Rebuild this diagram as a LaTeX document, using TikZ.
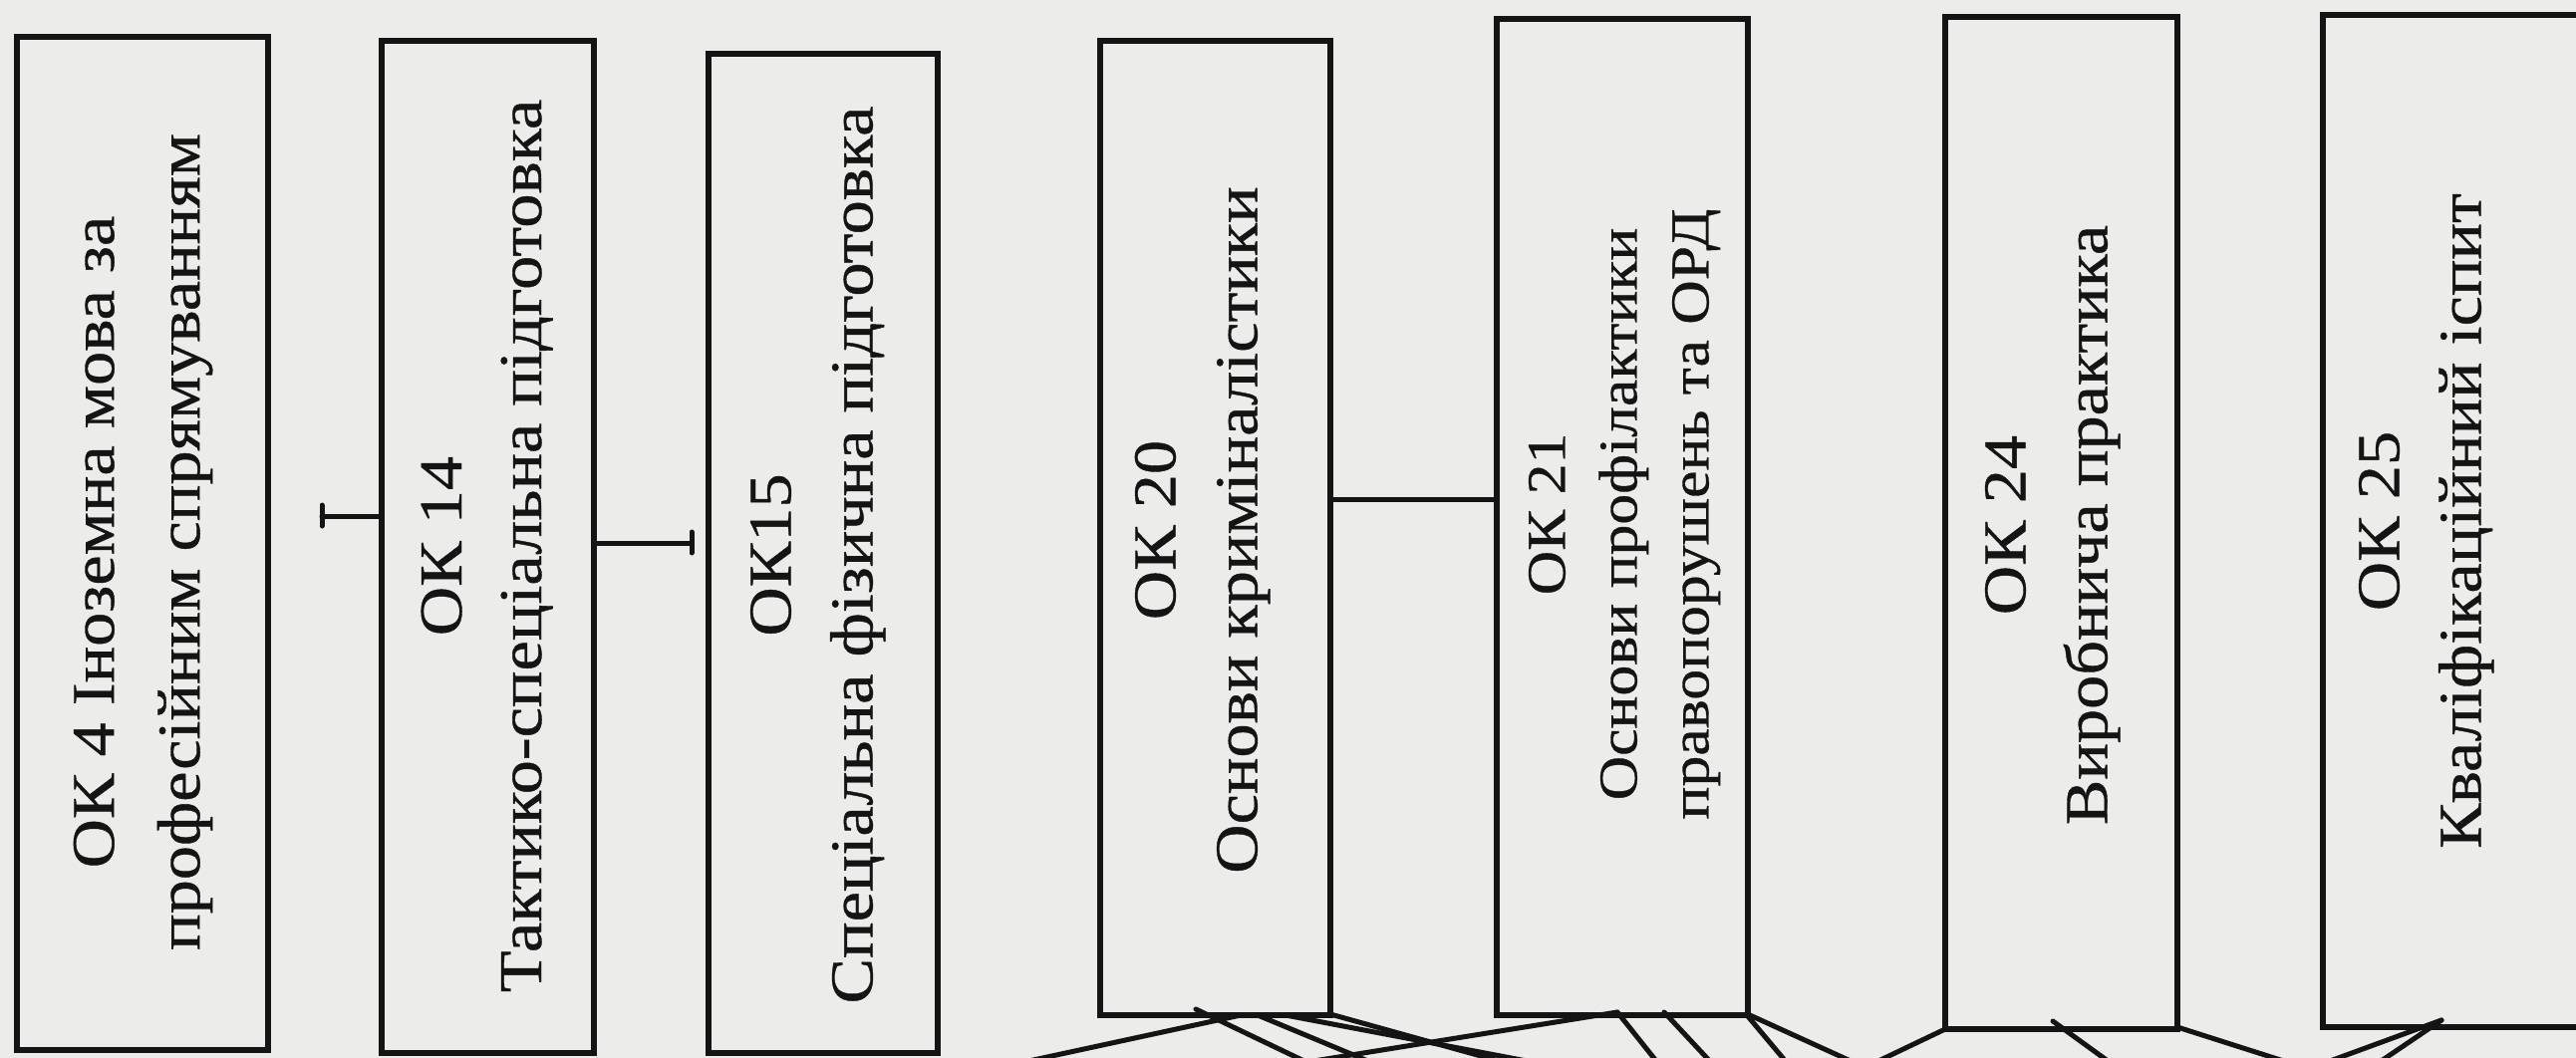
\documentclass[tikz,border=0pt]{standalone}
\usepackage{fontspec}
\setmainfont[FakeBold=0.6]{Liberation Serif}
\newfontfamily\heavyserif[FakeBold=0.6]{Liberation Serif}
\usepackage{graphicx}
\definecolor{paper}{RGB}{236,236,234}
\definecolor{ink}{RGB}{20,20,20}
\tikzset{
  box/.style={draw=ink, line width=5.5pt, rectangle, inner sep=0pt},
  txt/.style={inner sep=0pt, text=ink, font=\heavyserif},
  wire/.style={draw=ink, line width=5pt, line cap=round},
}
\newcommand{\vtxt}[3]{\rotatebox{90}{\scalebox{1.12}[1]{\fontsize{#1}{#2}\selectfont\begin{tabular}{@{}c@{}}#3\end{tabular}}}}
\begin{document}
\begin{tikzpicture}[x=1pt,y=-1pt]
\useasboundingbox (0,0) rectangle (2585,1062);
\fill[paper] (0,0) rectangle (2585,1062);
\clip (0,0) rectangle (2585,1062);

% boxes
\node[box, minimum width=252pt, minimum height=1017pt] (b1) at (143,545.5) {};
\node[box, minimum width=213pt, minimum height=1016pt] (b2) at (489.5,549) {};
\node[box, minimum width=230pt, minimum height=1003pt] (b3) at (826,555.5) {};
\node[box, minimum width=231pt, minimum height=978pt] (b4) at (1219.5,530) {};
\node[box, minimum width=252pt, minimum height=1000pt] (b5) at (1628,519) {};
\node[box, minimum width=233pt, minimum height=1016pt] (b6) at (2068.5,525) {};
\node[box, minimum width=289pt, minimum height=1016pt] (b7) at (2475.5,523) {};

% texts
\node[txt] (t1) at (140,544) {\vtxt{61}{86}{ОК 4 Іноземна мова за\\професійним спрямуванням}};
\node[txt] (t2) at (487,548) {\vtxt{61}{80}{ОК 14\\Тактико-спеціальна підготовка}};
\node[txt] (t3) at (818,557) {\vtxt{61}{82}{ОК15\\Спеціальна фізична підготовка}};
\node[txt] (t4) at (1204,532) {\vtxt{61}{82}{ОК 20\\Основи криміналістики}};
\node[txt] (t5) at (1628,516) {\vtxt{55}{72}{ОК 21\\Основи профілактики\\правопорушень та ОРД}};
\node[txt] (t6) at (2057,527) {\vtxt{61}{82}{ОК 24\\Виробнича практика}};
\node[txt] (t7) at (2432,523) {\vtxt{61}{82}{ОК 25\\Кваліфікаційний іспит}};

% side connectors with ticks
\coordinate (k1) at (323,518);
\coordinate (k1a) at (323,507);
\coordinate (k1b) at (323,528);
\draw[wire] (k1) -- (k1 -| b2.west);
\draw[wire] (k1a) -- (k1b);
\coordinate (k2) at (694,545);
\coordinate (k2a) at (694,534);
\coordinate (k2b) at (694,555);
\draw[wire] (b2.east |- k2) -- (k2);
\draw[wire] (k2a) -- (k2b);
\coordinate (m45) at (1400,501);
\draw[wire] (b4.east |- m45) -- (b5.west |- m45);

% bottom tangle (free ends beyond the frame)
\coordinate (p1) at (1245,1019);  \coordinate (q1) at (1000,1072);
\coordinate (p2) at (1200,1013);  \coordinate (q2) at (1315,1068);
\coordinate (p3) at (1262,1019);  \coordinate (q3) at (1380,1068);
\coordinate (p4) at (1290,1019);  \coordinate (q4) at (1548,1068);
\coordinate (p5) at (1335,1018);  \coordinate (q5) at (1522,1070);
\coordinate (p6) at (1623,1016);  \coordinate (q6) at (1250,1076);
\coordinate (p7) at (1623,1016);  \coordinate (q7) at (1670,1075);
\coordinate (p8) at (1670,1016);  \coordinate (q8) at (1725,1075);
\coordinate (p9) at (1753,1019);  \coordinate (q9) at (1800,1075);
\coordinate (p10) at (1756,1019); \coordinate (q10) at (1890,1080);
\coordinate (p11) at (1952,1033); \coordinate (q11) at (1864,1075);
\coordinate (p12) at (2060,1025); \coordinate (q12) at (2129,1075);
\coordinate (p13) at (2185,1031); \coordinate (q13) at (2323,1075);
\coordinate (p14) at (2450,1024); \coordinate (q14) at (2330,1068);
\coordinate (p15) at (2450,1024); \coordinate (q15) at (2385,1068);
\foreach \i in {1,...,15} {\draw[wire] (p\i) -- (q\i);}
\end{tikzpicture}
\end{document}
